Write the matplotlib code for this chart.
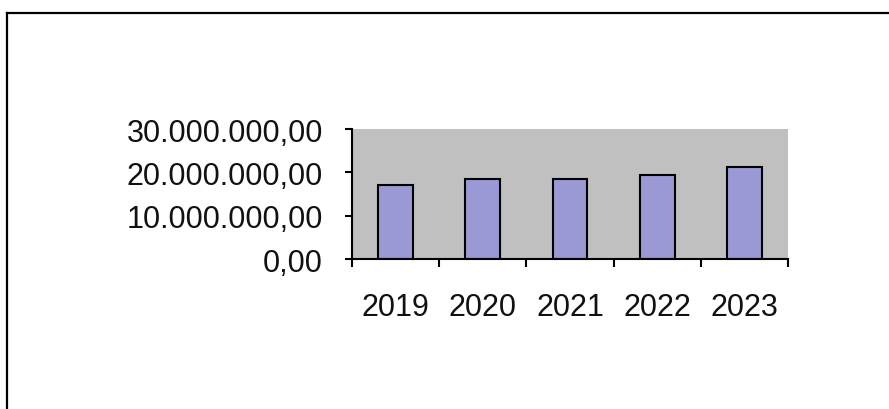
import matplotlib
matplotlib.use("Agg")
import matplotlib.pyplot as plt
from matplotlib.lines import Line2D

years = ["2019", "2020", "2021", "2022", "2023"]
values = [17100000, 18400000, 18500000, 19400000, 21200000]
ytick_values = [0, 10000000, 20000000, 30000000]
ytick_labels = ["0,00", "10.000.000,00", "20.000.000,00", "30.000.000,00"]

plt.rcParams['font.family'] = ['Liberation Sans', 'DejaVu Sans']

W, H = 889, 410
fig = plt.figure(figsize=(W / 100, H / 100), dpi=100)
fig.patch.set_facecolor('white')

ax = fig.add_axes([352 / W, 1 - 260 / H, (788 - 352) / W, (260 - 130) / H])
ax.set_facecolor('#C0C0C0')

x = list(range(len(years)))
ax.bar(x, values, width=0.4, color='#9B98D6', edgecolor='black', linewidth=1.5, zorder=3)

ax.set_xlim(-0.5, len(years) - 0.5)
ax.set_ylim(0, 30000000)

ax.set_yticks(ytick_values)
ax.set_yticklabels(ytick_labels, fontsize=22, color='#111111')
ax.tick_params(axis='y', direction='out', length=5, width=1.5, pad=16)

# major ticks at category boundaries, labels at centers
ax.set_xticks([i - 0.5 for i in range(len(years) + 1)])
ax.set_xticklabels([])
ax.set_xticks(x, minor=True)
ax.set_xticklabels(years, minor=True, fontsize=22, color='#111111')
ax.tick_params(axis='x', which='major', direction='out', length=6, width=1.5)
ax.tick_params(axis='x', which='minor', length=0, pad=24)

for s in ['top', 'right']:
    ax.spines[s].set_visible(False)
for s in ['left', 'bottom']:
    ax.spines[s].set_linewidth(1.5)
    ax.spines[s].set_color('black')
    ax.spines[s].set_zorder(4)

# outer frame (top and left edges)
fig.add_artist(Line2D([7 / W, 1.0], [1 - 14 / H, 1 - 14 / H], transform=fig.transFigure,
                      color='black', linewidth=1.6))
fig.add_artist(Line2D([7 / W, 7 / W], [0.0, 1 - 14 / H], transform=fig.transFigure,
                      color='black', linewidth=1.6))

fig.savefig("out.png", dpi=100)
